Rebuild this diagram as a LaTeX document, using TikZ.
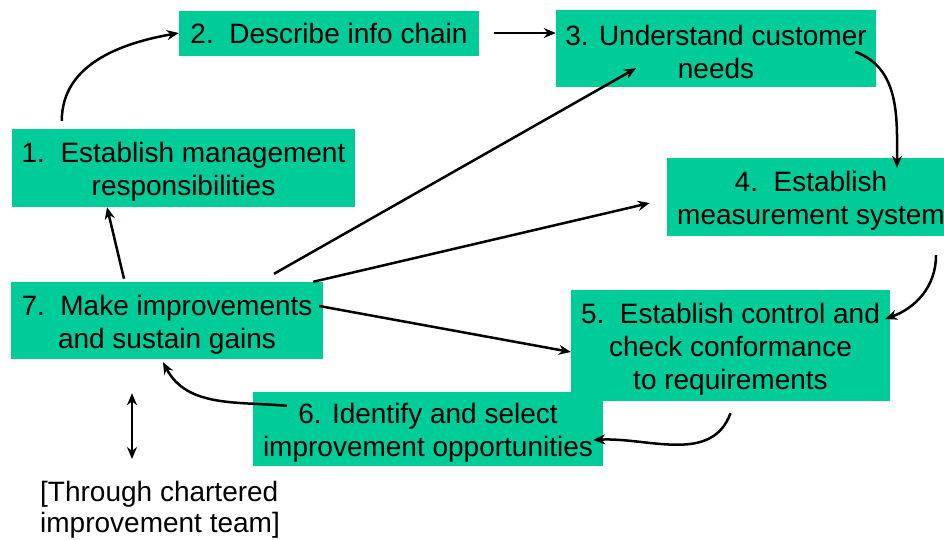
\documentclass[tikz,border=0pt]{standalone}
\usepackage{fontspec}
\setmainfont{Liberation Sans}
\usepackage{xcolor}
\usepackage{tikz}
\usetikzlibrary{arrows.meta}
\definecolor{boxgreen}{RGB}{0,204,153}
\tikzstyle{stepbox} = [fill=boxgreen, inner sep=0pt, align=center,
	font=\fontsize{28}{33}\selectfont]
\tikzstyle{twolines} = [text height=61pt]
\tikzstyle{threelines} = [text height=94pt]
\tikzstyle{flow} = [line width=2.5pt, -{Stealth[length=12pt,width=10pt]}]

\begin{document}
\begin{tikzpicture}[x=1pt,y=-1pt]
	\useasboundingbox (0,0) rectangle (944,539);
	% the steps
	\node[stepbox, twolines, minimum width=343pt, minimum height=78pt] (s1) at (183.5,168)
		{1.\ \ Establish management\\responsibilities};
	\node[stepbox, minimum width=300pt, minimum height=45pt] (s2) at (329,33)
		{2.\ \ Describe info chain};
	\node[stepbox, twolines, minimum width=320pt, minimum height=77pt] (s3) at (716,48.5)
		{3. Understand customer\\needs};
	\node[stepbox, twolines, minimum width=288pt, minimum height=78pt] (s4) at (811,197)
		{4.\ \ Establish\\measurement system};
	\node[stepbox, threelines, minimum width=319pt, minimum height=111pt] (s5) at (730.5,345.5)
		{5.\ \ Establish control and\\check conformance\\to requirements};
	\node[stepbox, twolines, minimum width=350pt, minimum height=74pt] (s6) at (428,429)
		{6. Identify and select\\improvement opportunities};
	\node[stepbox, twolines, minimum width=312pt, minimum height=77pt] (s7) at (167,320.5)
		{7.\ \ Make improvements\\and sustain gains};
	\node[inner sep=0pt, align=left, anchor=north west,
		font=\fontsize{28}{31}\selectfont] (team) at (40,481)
		{[Through chartered\\improvement team]};

	% the cycle
	\draw[flow] ([xshift=50pt,yshift=8pt]s1.north west) to[out=90,in=190] (s2.west);
	\draw[flow] ([xshift=15pt]s2.east) -- (s2.east -| s3.west);
	\draw[flow] ([xshift=-21pt,yshift=-42pt]s3.north east) to[out=-20,in=90]
		([xshift=86pt,yshift=-10pt]s4.north);
	\draw[flow] ([xshift=125pt,yshift=-19pt]s4.south) to[out=-90,in=20]
		([xshift=-5pt,yshift=26.5pt]s5.east);
	\draw[flow] ([yshift=-12pt]s5.south) to[out=-110,in=3]
		([xshift=-10pt,yshift=-11pt]s6.east);
	\draw[flow] ([xshift=34pt,yshift=-14pt]s6.north west) to[out=175,in=-62]
		([xshift=-4pt,yshift=-3pt]s7.south);

	% from step 7
	\draw[flow] ([xshift=-43pt,yshift=3pt]s7.north) -- ([xshift=-76.5pt]s1.south);
	\draw[flow] ([xshift=107pt,yshift=8pt]s7.north) -- ([xshift=-80pt,yshift=19pt]s3.south);
	\draw[flow] ([xshift=-10pt]s7.north east) -- ([xshift=-17pt,yshift=-6pt]s4.west);
	\draw[flow] ([xshift=-4pt,yshift=14.5pt]s7.east) -- ([yshift=-6.5pt]s5.west);
	\draw[flow, {Stealth[length=12pt,width=10pt]}-{Stealth[length=12pt,width=10pt]}]
		([xshift=-35pt,yshift=-34pt]s7.south) -- ([xshift=92pt,yshift=22pt]team.north west);
\end{tikzpicture}
\end{document}
